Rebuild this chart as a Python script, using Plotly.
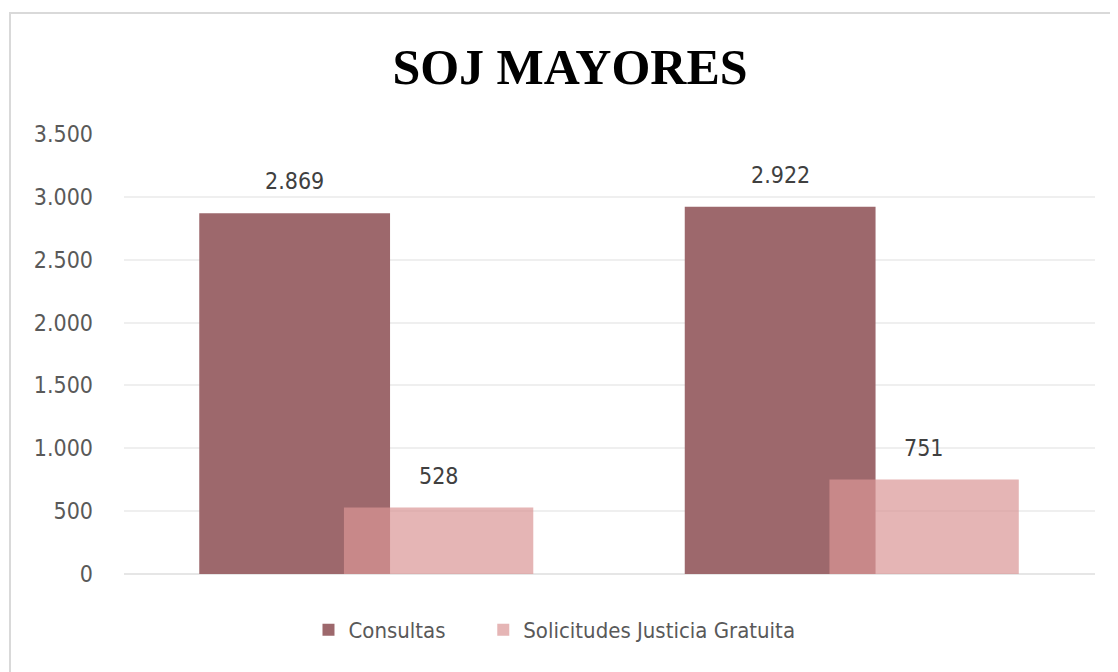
import plotly.graph_objects as go

periodos = ["Periodo 1", "Periodo 2"]
consultas = [2869, 2922]
solicitudes = [528, 751]
y_ticks = [0, 500, 1000, 1500, 2000, 2500, 3000, 3500]

NARROW = "DejaVu Sans Condensed, Liberation Sans Narrow, Roboto, sans-serif"

series = [
    dict(name="Consultas", values=consultas, color="#9d686c", width=0.393, offset=-0.345, legend="legend", lx=0.190),
    dict(name="Solicitudes Justicia Gratuita", values=solicitudes, color="rgba(218,150,150,0.7)", width=0.39, offset=-0.047, legend="legend2", lx=0.370),
]

fig = go.Figure()
annotations = []
legends = {}
for s in series:
    fig.add_trace(go.Bar(
        name=s["name"], x=periodos, y=s["values"],
        marker=dict(color=s["color"], line=dict(width=0)),
        width=s["width"], offset=s["offset"], legend=s["legend"],
    ))
    legends[s["legend"]] = dict(
        orientation="h", x=s["lx"], xanchor="left", y=-0.127, yanchor="middle",
        font=dict(family=NARROW, size=22, color="#595959"),
        itemwidth=30, bgcolor="rgba(0,0,0,0)",
    )
    center = s["offset"] + s["width"] / 2
    for i, v in enumerate(s["values"]):
        annotations.append(dict(
            x=i + center, y=v, xref="x", yref="y",
            text=f"{v:,d}".replace(",", "."), showarrow=False,
            yanchor="middle", yshift=32,
            font=dict(family=NARROW, size=23, color="#404040"),
        ))

fig.update_layout(
    width=1110, height=664,
    barmode="overlay",
    separators=",.",
    paper_bgcolor="white", plot_bgcolor="white",
    margin=dict(l=116, r=23, t=126, b=98),
    title=dict(text="<b>SOJ MAYORES</b>", x=562 / 1110, xanchor="center", xref="container",
               y=1 - 58 / 664, yanchor="middle", yref="container",
               font=dict(family="Liberation Serif, Times New Roman, serif", size=50, color="#000000")),
    xaxis=dict(showticklabels=False, showgrid=False, showline=False, zeroline=False, ticks=""),
    yaxis=dict(range=[0, 3500], tickvals=y_ticks, tickformat=",d",
               showgrid=True, gridcolor="#efefef", gridwidth=1.5,
               zeroline=True, zerolinecolor="#e6e6e6", zerolinewidth=1.5,
               showline=False, ticks="", ticklabelstandoff=30,
               tickfont=dict(family=NARROW, size=23, color="#595959")),
    showlegend=True,
    annotations=annotations,
    shapes=[dict(type="rect", xref="paper", yref="paper",
                 x0=-0.1174, x1=1.1, y0=-0.4, y1=1.275,
                 line=dict(color="#d9d9d9", width=2), fillcolor="rgba(0,0,0,0)", layer="below")],
    **legends,
)

fig.write_html("out.html")
